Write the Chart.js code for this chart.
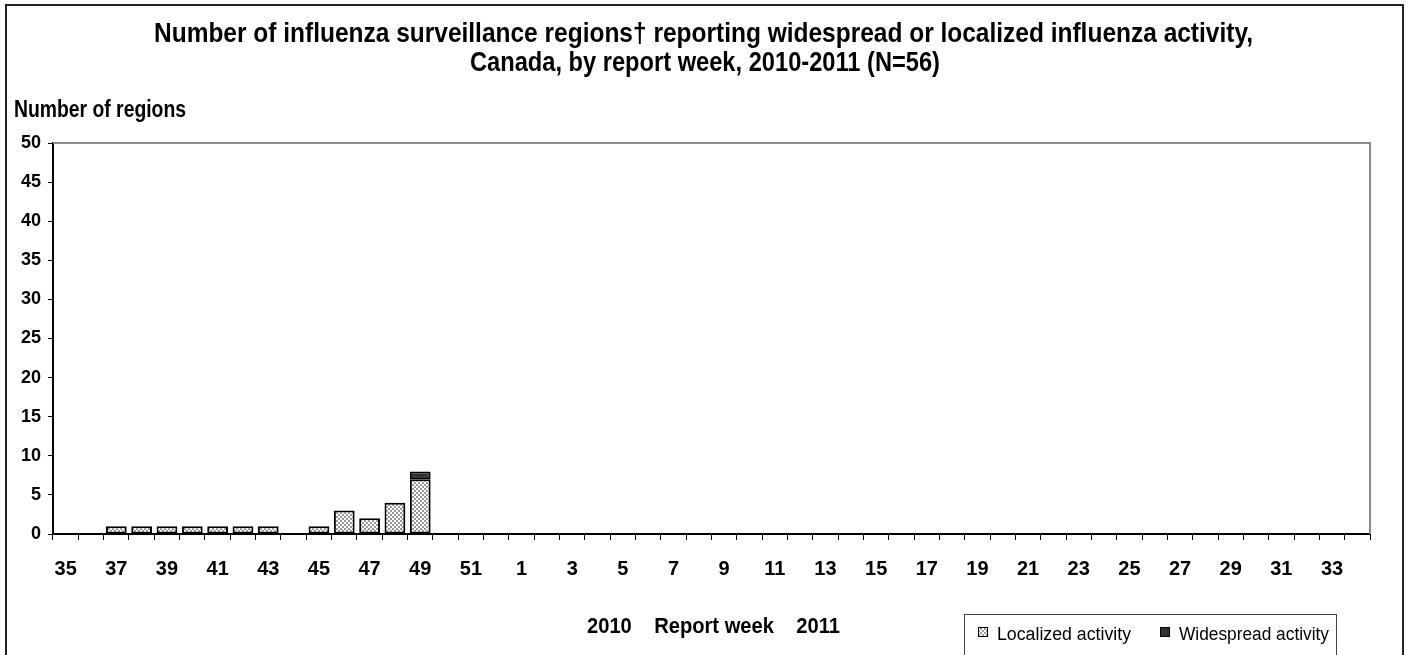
<!DOCTYPE html>
<html>
<head>
<meta charset="utf-8">
<script src="https://cdn.jsdelivr.net/npm/chart.js@4.4.0/dist/chart.umd.min.js"></script>
<style>
  html, body { margin: 0; padding: 0; background: #fff; }
  #wrap { width: 1408px; height: 655px; position: relative; }
</style>
</head>
<body>
<div id="wrap"><canvas id="fluChart" width="1408" height="655"></canvas></div>
<script>
// report weeks, 2010 (35-52) then 2011 (1-34)
const weeks = [35,36,37,38,39,40,41,42,43,44,45,46,47,48,49,50,51,52,
  1,2,3,4,5,6,7,8,9,10,11,12,13,14,15,16,17,18,19,20,21,22,23,24,25,26,27,28,29,30,31,32,33,34];

// regions reporting, weeks 35..49 (later weeks not reported yet)
const localized = [0,0,1,1,1,1,1,1,1,0,1,3,2,4,7];
const widespread = [null,null,null,null,null,null,null,null,null,null,null,null,null,null,1];

const yTicks = [0,5,10,15,20,25,30,35,40,45,50];

const titleLines = [
  "Number of influenza surveillance regions\u2020 reporting widespread or localized influenza activity,",
  "Canada, by report week, 2010-2011 (N=56)"
];
const yTitle = "Number of regions";
const xTitle = "2010    Report week    2011";
const legendLabels = ["Localized activity", "Widespread activity"];

const FONT = "'Liberation Sans', Arial, sans-serif";

// --- checkered fill like the Excel pattern ---
function makeChecker() {
  const c = document.createElement("canvas");
  c.width = 4; c.height = 4;
  const g = c.getContext("2d");
  g.fillStyle = "#ffffff";
  g.fillRect(0, 0, 4, 4);
  g.fillStyle = "#9a9a9a";
  g.fillRect(0, 0, 2, 2);
  g.fillRect(2, 2, 2, 2);
  return g.createPattern(c, "repeat");
}

// text squeezed to a given width and cap height (Excel's narrow, tall look)
function fitText(ctx, text, x, base, width, cap, weight, align) {
  const size = cap / 0.716;
  ctx.font = `${weight} ${size}px ${FONT}`;
  const w = ctx.measureText(text).width;
  const sx = width / w;
  ctx.save();
  ctx.textBaseline = "alphabetic";
  ctx.textAlign = "left";
  let left = x;
  if (align === "center") left = x - width / 2;
  ctx.translate(left, base);
  ctx.scale(sx, 1);
  ctx.fillText(text, 0, 0);
  ctx.restore();
}

window.addEventListener("DOMContentLoaded", () => {
  const canvas = document.getElementById("fluChart");
  const fillLocal = makeChecker();
  const fillWide = "#333333";

  // --- Plugin: frame, titles, plot border, legend box ---
  const decorPlugin = {
    id: "decorPlugin",
    afterDraw(chart) {
      const { ctx, chartArea } = chart;
      ctx.save();

      // outer frame
      ctx.strokeStyle = "#222";
      ctx.lineWidth = 2;
      ctx.strokeRect(6, 5, 1397, 700);

      // plot border (top and right, gray)
      ctx.strokeStyle = "#8c8c8c";
      ctx.lineWidth = 2;
      ctx.beginPath();
      ctx.moveTo(chartArea.left, chartArea.top);
      ctx.lineTo(chartArea.right, chartArea.top);
      ctx.lineTo(chartArea.right, chartArea.bottom);
      ctx.stroke();

      ctx.fillStyle = "#000";
      // title
      fitText(ctx, titleLines[0], 154, 42, 1099, 20, "bold", "left");
      fitText(ctx, titleLines[1], 705, 71, 470, 20, "bold", "center");
      // y title
      fitText(ctx, yTitle, 14, 117, 172, 17, "bold", "left");
      // x title
      fitText(ctx, xTitle, 587, 633, 253, 16, "bold", "left");

      // legend box
      ctx.strokeStyle = "#444";
      ctx.lineWidth = 1;
      ctx.strokeRect(964.5, 614.5, 372, 60);
      const items = [
        { x: 978, fill: fillLocal, text: legendLabels[0], w: 134 },
        { x: 1160, fill: fillWide, text: legendLabels[1], w: 150 }
      ];
      items.forEach(it => {
        ctx.fillStyle = it.fill;
        ctx.fillRect(it.x, 627, 10, 10);
        ctx.strokeStyle = "#000";
        ctx.strokeRect(it.x + 0.5, 627.5, 9, 9);
        ctx.fillStyle = "#000";
        fitText(ctx, it.text, it.x + 19, 640, it.w, 13, "normal", "left");
      });

      ctx.restore();
    }
  };

  new Chart(canvas, {
    type: "bar",
    data: {
      labels: weeks.map(String),
      datasets: [
        {
          label: legendLabels[0],
          data: localized,
          backgroundColor: fillLocal,
          borderColor: "#000",
          borderWidth: 2,
          borderSkipped: false,
          barPercentage: 0.82,
          categoryPercentage: 1.0
        },
        {
          label: legendLabels[1],
          data: widespread,
          backgroundColor: fillWide,
          borderColor: "#000",
          borderWidth: 2,
          borderSkipped: false,
          barPercentage: 0.82,
          categoryPercentage: 1.0
        }
      ]
    },
    options: {
      responsive: false,
      animation: false,
      layout: { padding: { top: 143, left: 0, right: 38, bottom: 0 } },
      plugins: {
        legend: { display: false },
        title: { display: false },
        tooltip: { enabled: false }
      },
      scales: {
        x: {
          stacked: true,
          grid: { display: true, drawOnChartArea: false, tickLength: 6, color: "#000", lineWidth: 1 },
          border: { color: "#000", width: 2 },
          ticks: {
            autoSkip: false,
            maxRotation: 0,
            padding: 17,
            color: "#000",
            font: { family: FONT, size: 20, weight: "bold" },
            callback: (v, i) => (i % 2 === 0 ? weeks[i] : "")
          },
          afterFit: s => { s.height = 121; }
        },
        y: {
          stacked: true,
          min: 0,
          max: 50,
          afterBuildTicks: s => { s.ticks = yTicks.map(v => ({ value: v })); },
          grid: { display: true, drawOnChartArea: false, tickLength: 5, color: "#000", lineWidth: 1 },
          border: { color: "#000", width: 2 },
          ticks: {
            padding: 7,
            color: "#000",
            font: { family: FONT, size: 18, weight: "bold" }
          },
          afterFit: s => { s.width = 53; }
        }
      }
    },
    plugins: [decorPlugin]
  });
});
</script>
</body>
</html>
